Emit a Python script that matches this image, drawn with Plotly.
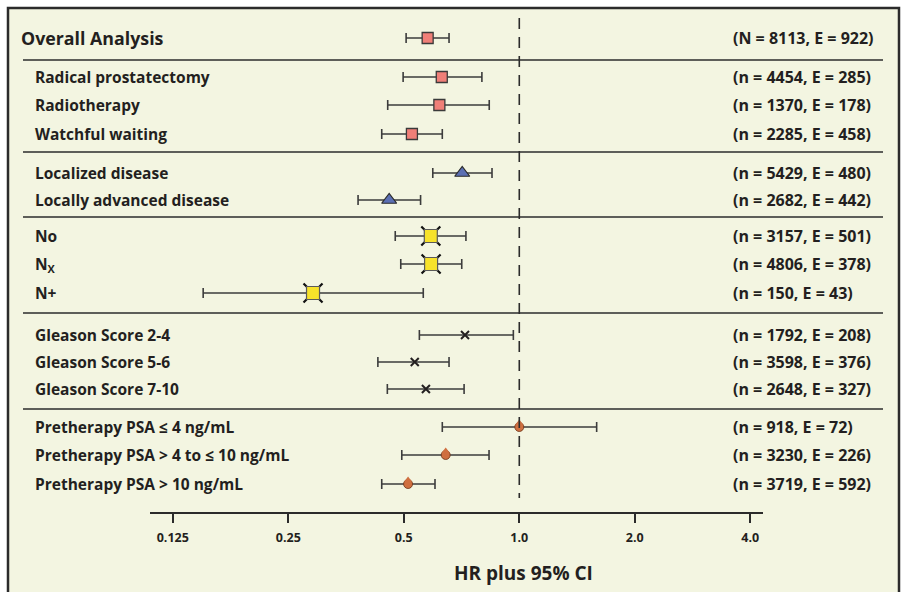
import plotly.graph_objects as go

# ---------------- data ----------------
labels = ["Overall Analysis", "Radical prostatectomy", "Radiotherapy", "Watchful waiting",
          "Localized disease", "Locally advanced disease",
          "No", "N<sub>X</sub>", "N+",
          "Gleason Score 2-4", "Gleason Score 5-6", "Gleason Score 7-10",
          "Pretherapy PSA ≤ 4 ng/mL", "Pretherapy PSA > 4 to ≤ 10 ng/mL", "Pretherapy PSA > 10 ng/mL"]
counts = ["(N = 8113, E = 922)", "(n = 4454, E = 285)", "(n = 1370, E = 178)", "(n = 2285, E = 458)",
          "(n = 5429, E = 480)", "(n = 2682, E = 442)",
          "(n = 3157, E = 501)", "(n = 4806, E = 378)", "(n = 150, E = 43)",
          "(n = 1792, E = 208)", "(n = 3598, E = 376)", "(n = 2648, E = 327)",
          "(n = 918, E = 72)", "(n = 3230, E = 226)", "(n = 3719, E = 592)"]
hr = [0.577, 0.628, 0.619, 0.525, 0.710, 0.458, 0.588, 0.589, 0.290,
      0.722, 0.534, 0.571, 1.0, 0.643, 0.513]
ci_lo = [0.507, 0.498, 0.454, 0.438, 0.595, 0.380, 0.475, 0.491, 0.150,
         0.549, 0.428, 0.453, 0.630, 0.494, 0.438]
ci_hi = [0.656, 0.799, 0.835, 0.630, 0.849, 0.553, 0.726, 0.708, 0.562,
         0.965, 0.656, 0.718, 1.591, 0.834, 0.603]
groups = [0, 0, 0, 0, 1, 1, 2, 2, 2, 3, 3, 3, 4, 4, 4]
tick_vals = [0.125, 0.25, 0.5, 1.0, 2.0, 4.0]
tick_text = ["0.125", "0.25", "0.5", "1.0", "2.0", "4.0"]
x_title = "HR plus 95% CI"

# ---------------- layout constants ----------------
W, H = 903, 592
L, R, T, B = 150, 140, 0, 80
row_y = [38, 77, 105, 134, 173, 200, 236, 264, 293, 335, 362, 389, 427, 455, 484]
sep_y = [60, 152, 217, 313, 409]
PW = W - L - R
PH = H - T - B
FONT = "Open Sans"
TXT = "#231f20"
BG = "#f3f5e1"


def px_x(p):
    return (p - L) / PW


def px_y(p):
    return (PH - p) / PH


fig = go.Figure()


def add_group(idx, marker, name):
    fig.add_trace(go.Scatter(
        x=[hr[i] for i in idx], y=[row_y[i] for i in idx],
        mode="markers", name=name, showlegend=False,
        marker=marker,
        error_x=dict(type="data", symmetric=False,
                     array=[ci_hi[i] - hr[i] for i in idx],
                     arrayminus=[hr[i] - ci_lo[i] for i in idx],
                     color="#3c3c3c", thickness=1.6, width=5),
        hoverinfo="skip"))


g = lambda k: [i for i, gg in enumerate(groups) if gg == k]

# squares (overall + treatment)
add_group(g(0), dict(symbol="square", size=11, color="#f07f78",
                     line=dict(color="#3a3a3a", width=1.3)), "treat")
# triangles
add_group(g(1), dict(symbol="triangle-up", size=13, color="#5b6fb3",
                     line=dict(color="#2a2a2a", width=1.2)), "stage")
# yellow squares with corner marks
idx = g(2)
add_group(idx, dict(symbol="x-thin-open", size=19, color="#111111",
                    line=dict(color="#111111", width=2.2)), "node")
fig.add_trace(go.Scatter(x=[hr[i] for i in idx], y=[row_y[i] for i in idx], mode="markers",
                         showlegend=False, hoverinfo="skip",
                         marker=dict(symbol="square", size=13, color="#f7e22a",
                                     line=dict(color="#5a5a5a", width=1.2))))
# Gleason x marks
add_group(g(3), dict(symbol="x-thin-open", size=8, color=TXT,
                     line=dict(color=TXT, width=2)), "gleason")
# PSA teardrops
idx = g(4)
add_group(idx, dict(symbol="circle", size=9, color="#cf6f40",
                    line=dict(color="#6b3418", width=0.8)), "psa")
fig.add_trace(go.Scatter(x=[hr[i] for i in idx], y=[row_y[i] - 4 for i in idx], mode="markers",
                         showlegend=False, hoverinfo="skip",
                         marker=dict(symbol="triangle-up", size=7, color="#cf6f40",
                                     line=dict(color="#cf6f40", width=0))))

shapes = []
# frame
shapes.append(dict(type="rect", xref="paper", yref="paper", layer="below",
                   x0=px_x(8), x1=px_x(899), y0=px_y(8), y1=px_y(640),
                   fillcolor=BG, line=dict(color="#2b2b2b", width=2.5)))
# separators
for s in sep_y:
    shapes.append(dict(type="line", xref="paper", yref="y", x0=px_x(23), x1=px_x(883),
                       y0=s, y1=s, line=dict(color="#2b2b2b", width=1.6)))
# reference line
shapes.append(dict(type="line", xref="x", yref="y", x0=1.0, x1=1.0, y0=18, y1=498,
                   line=dict(color="#2b2b2b", width=1.6, dash="11px,8px")))

annotations = []
for i, (lab, cnt) in enumerate(zip(labels, counts)):
    big = i == 0
    annotations.append(dict(xref="paper", yref="y", x=px_x(19 if big else 33), y=row_y[i],
                            text=lab, showarrow=False, xanchor="left", yanchor="middle",
                            font=dict(family=FONT, size=17.8 if big else 15.5, color=TXT,
                                      weight="bold")))
    annotations.append(dict(xref="paper", yref="y", x=px_x(731), y=row_y[i],
                            text=cnt, showarrow=False, xanchor="left", yanchor="middle",
                            font=dict(family=FONT, size=16, color=TXT, weight="bold")))
annotations.append(dict(xref="paper", yref="paper", x=px_x(523), y=px_y(573),
                        text=x_title, showarrow=False, xanchor="center", yanchor="middle",
                        font=dict(family=FONT, size=19, color=TXT, weight="bold")))

fig.update_layout(
    width=W, height=H, margin=dict(l=L, r=R, t=T, b=B, pad=0),
    paper_bgcolor="white", plot_bgcolor="rgba(0,0,0,0)",
    shapes=shapes, annotations=annotations,
    xaxis=dict(type="log", range=[-0.9625, 0.6352], tickvals=tick_vals, ticktext=tick_text,
               showline=True, linecolor="#2b2b2b", linewidth=2, ticks="outside",
               ticklen=9, tickwidth=1.6, tickcolor="#2b2b2b", showgrid=False, zeroline=False,
               ticklabelstandoff=4,
               tickfont=dict(family=FONT, size=12.5, color=TXT, weight="bold")),
    yaxis=dict(range=[PH, 0], visible=False, showgrid=False, zeroline=False),
)

fig.write_html("out.html", config={"displayModeBar": False},
               post_script="document.body.style.margin='0';")
